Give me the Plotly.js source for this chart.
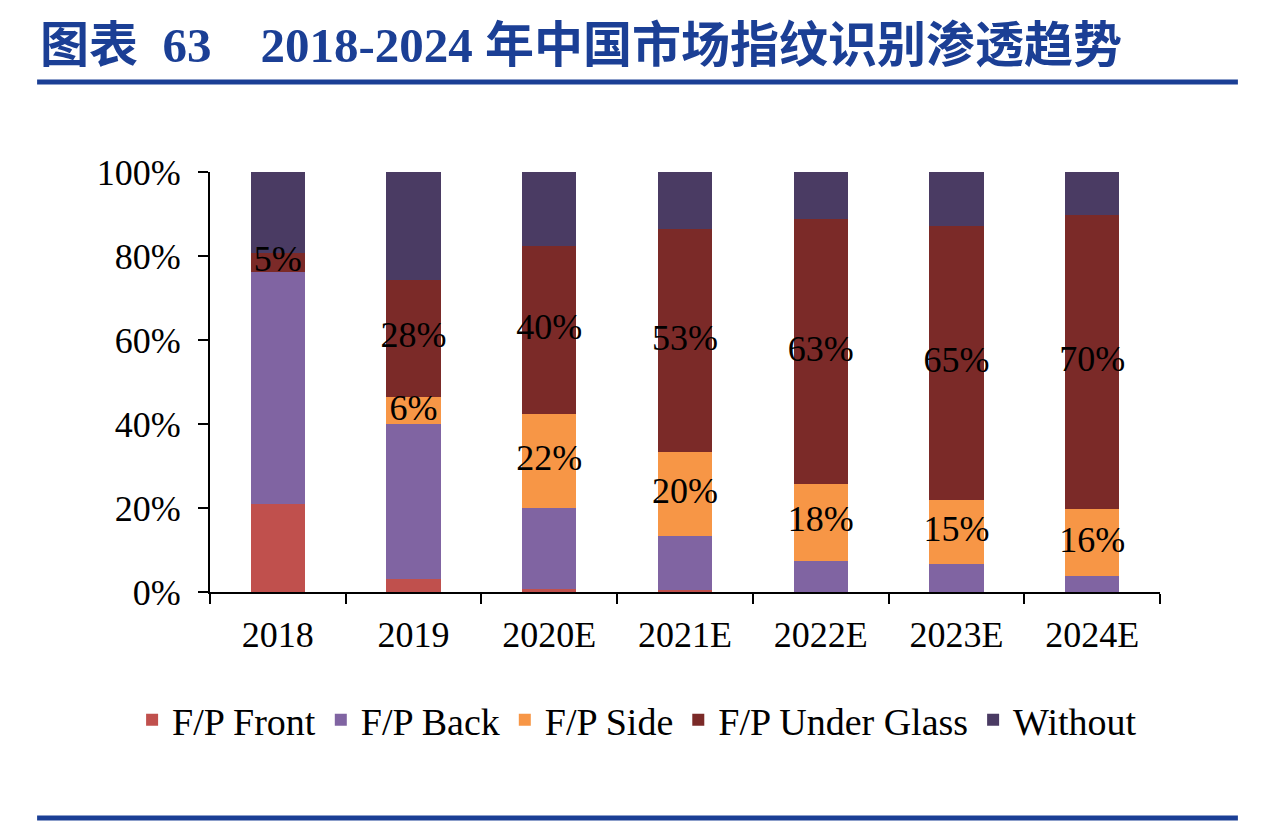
<!DOCTYPE html>
<html>
<head>
<meta charset="utf-8">
<script src="https://cdn.plot.ly/plotly-3.0.1.min.js"></script>
<style>
  html, body { margin: 0; padding: 0; background: #fff; }
  #chart { width: 1268px; height: 824px; }
</style>
</head>
<body>
<div id="chart"></div>
<script>
// categories and shares (%)
const years = ['2018', '2019', '2020E', '2021E', '2022E', '2023E', '2024E'];
const fpFront = [21, 3, 0.8, 0.5, 0, 0, 0];
const fpBack = [55.2, 37, 19.2, 12.8, 7.5, 6.7, 3.7];
const fpSide = [0, 6.4, 22.3, 20, 18.1, 15.1, 16];
const fpUnderGlass = [4.6, 28, 40.2, 53.1, 63.1, 65.3, 70];
const without = [19.2, 25.6, 17.5, 13.6, 11.3, 12.9, 10.3];

const seriesNames = ['F/P Front', 'F/P Back', 'F/P Side', 'F/P Under Glass', 'Without'];
const seriesColors = ['#C0504D', '#8064A2', '#F79646', '#7B2A28', '#4A3B63'];

const serif = 'Liberation Serif, Times New Roman, serif';
const pct = v => v > 0 ? Math.round(v) + '%' : '';

const allSeries = [fpFront, fpBack, fpSide, fpUnderGlass, without];

const traces = allSeries.map((vals, i) => ({
  type: 'bar',
  name: seriesNames[i],
  x: years,
  y: vals,
  width: 0.4,
  marker: { color: seriesColors[i], line: { width: 0 } },
  hoverinfo: 'skip'
}));

// value labels for Side and Under Glass, centred in their segments, drawn above all bars
const base = years.map((_, j) => fpFront[j] + fpBack[j]);
const sideMid = years.map((_, j) => base[j] + fpSide[j] / 2);
const glassMid = years.map((_, j) => base[j] + fpSide[j] + fpUnderGlass[j] / 2);

[[fpSide, sideMid], [fpUnderGlass, glassMid]].forEach(([vals, mids]) => {
  traces.push({
    type: 'scatter',
    mode: 'text',
    x: years,
    y: mids,
    text: vals.map(pct),
    textposition: 'middle center',
    textfont: { family: serif, size: 36, color: '#000' },
    showlegend: false,
    hoverinfo: 'skip',
    cliponaxis: false
  });
});

const layout = {
  width: 1268,
  height: 824,
  paper_bgcolor: '#fff',
  plot_bgcolor: '#fff',
  barmode: 'stack',
  margin: { l: 210, r: 108, t: 172, b: 232 },
  title: {
    text: '图表\u00A0\u00A063\u00A0\u00A0\u00A0\u00A02018-2024\u00A0年中国市场指纹识别渗透趋势',
    font: { family: 'Liberation Serif, Noto Sans CJK SC, serif', size: 49, color: '#1B3F95', weight: 'bold' },
    xref: 'container', yref: 'container',
    x: 40 / 1268, xanchor: 'left',
    y: 1 - 45 / 824, yanchor: 'middle'
  },
  xaxis: {
    type: 'category',
    showline: true, linecolor: '#000', linewidth: 2,
    ticks: 'outside', tickson: 'boundaries', ticklen: 10, tickwidth: 2, tickcolor: '#000',
    ticklabelstandoff: 10,
    tickfont: { family: serif, size: 36, color: '#000' },
    showgrid: false, zeroline: false
  },
  yaxis: {
    range: [0, 100],
    dtick: 20,
    ticksuffix: '%',
    showline: true, linecolor: '#000', linewidth: 2,
    ticks: 'outside', ticklen: 10, tickwidth: 2, tickcolor: '#000',
    ticklabelstandoff: 10,
    tickfont: { family: serif, size: 36, color: '#000' },
    showgrid: false, zeroline: false
  },
  legend: {
    orientation: 'h',
    x: -0.082, xanchor: 'left',
    y: -0.305, yanchor: 'middle',
    font: { family: serif, size: 38, color: '#000' },
    traceorder: 'normal',
    itemclick: false
  },
  shapes: [
    { type: 'line', xref: 'paper', yref: 'paper', x0: -0.182, x1: 1.082, y0: 1.214, y1: 1.214,
      line: { color: '#1B3F95', width: 5 } },
    { type: 'line', xref: 'paper', yref: 'paper', x0: -0.182, x1: 1.082, y0: -0.538, y1: -0.538,
      line: { color: '#1B3F95', width: 5 } }
  ],
  showlegend: true
};

Plotly.newPlot('chart', traces, layout, { displayModeBar: false, staticPlot: true });
</script>
</body>
</html>
